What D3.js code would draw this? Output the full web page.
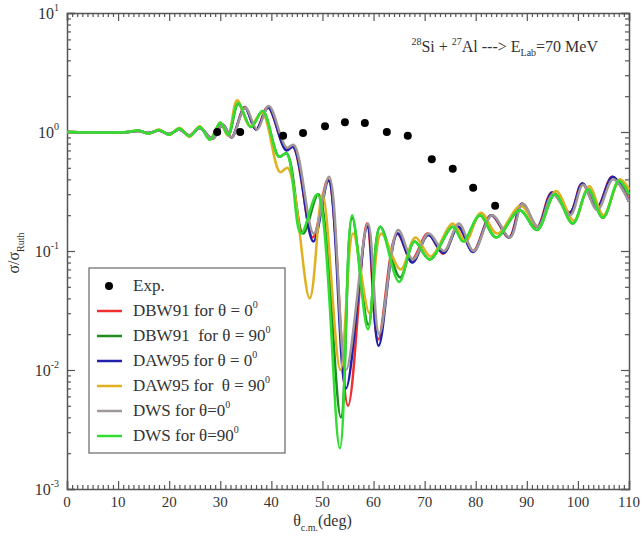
<!DOCTYPE html>
<html>
<head>
<meta charset="utf-8">
<script src="https://cdn.jsdelivr.net/npm/d3@7"></script>
<style>
  body { margin: 0; background: #fff; }
</style>
</head>
<body>
<div class="chart"></div>
<script>
// experimental points (angle in deg, sigma/sigma_Ruth)
var expAngle = [29.4, 33.9, 42.3, 46.2, 50.5, 54.4, 58.3, 62.6, 66.7, 71.4, 75.5, 79.5, 83.8];
var expValue = [1.0, 1.0, 0.93, 0.98, 1.12, 1.21, 1.19, 1.0, 0.93, 0.59, 0.49, 0.34, 0.24];

// calculated curves as [angle, value]
var dbw91_0 = [[0,1],[12,1],[14,1.02],[16,0.98],[18,1.03],[20,0.96],[22,1.05],[24,0.94],[26,1.08],[28.5,0.88],[30.5,1.15],[32.2,0.9],[34.8,1.62],[37,1.05],[39.3,1.62],[42.8,0.72],[44.2,0.76],[48.1,0.13],[51.1,0.40],[55,0.005],[58.7,0.17],[60.9,0.018],[64.6,0.14],[67.5,0.085],[70.6,0.14],[73.6,0.095],[76.5,0.16],[79.5,0.1],[83,0.2],[86.5,0.13],[89,0.25],[92,0.16],[94.9,0.31],[98.4,0.21],[100.8,0.37],[103.7,0.23],[106.7,0.42],[110,0.27]];
var dbw91_90 = [[0,1],[12,1],[14,1.03],[16,0.97],[18,1.04],[20,0.95],[22,1.07],[24,0.92],[26,1.1],[28,0.87],[30,1.18],[31.6,0.95],[33.5,1.72],[36,1.1],[38.3,1.5],[41.5,0.62],[43,0.66],[46.2,0.14],[49.2,0.30],[53.6,0.004],[55.8,0.19],[59,0.024],[61.3,0.16],[65.2,0.06],[68,0.12],[71,0.085],[75.5,0.16],[77.8,0.12],[80.8,0.2],[84,0.13],[88.6,0.22],[92,0.15],[95.5,0.3],[99,0.17],[102,0.33],[104.9,0.19],[108,0.38],[110,0.3]];
var daw95_0 = [[0,1],[12,1],[14,1.02],[16,0.98],[18,1.03],[20,0.96],[22,1.05],[24,0.93],[26,1.08],[28.5,0.88],[30.5,1.15],[32.2,0.9],[34.8,1.6],[37,1.05],[39.4,1.6],[42.9,0.7],[44.3,0.75],[48.2,0.12],[51.2,0.39],[54.6,0.007],[58.8,0.16],[61,0.016],[64.7,0.14],[67.6,0.08],[70.7,0.136],[73.7,0.096],[76.6,0.16],[79.5,0.098],[83.1,0.2],[86.6,0.13],[89.1,0.25],[92.1,0.16],[95,0.31],[98.4,0.21],[100.9,0.37],[103.7,0.23],[106.8,0.42],[110,0.26]];
var daw95_90 = [[0,1],[12,1],[14,1.03],[16,0.97],[18,1.05],[20,0.95],[22,1.08],[24,0.91],[26,1.12],[28,0.86],[30,1.2],[31.5,0.93],[33.3,1.85],[35.8,1.12],[38.2,1.45],[41.7,0.46],[43.2,0.5],[47.5,0.04],[50,0.3],[53.5,0.01],[56,0.14],[59.2,0.03],[61.5,0.14],[65.3,0.07],[68.2,0.13],[71.2,0.09],[75.5,0.17],[78,0.12],[81,0.21],[84.2,0.14],[88.8,0.24],[92.2,0.16],[95.7,0.32],[99.2,0.18],[102.2,0.35],[105,0.2],[108.2,0.4],[110,0.33]];
var dws_0 = [[0,1],[12,1],[14,1.02],[16,0.98],[18,1.03],[20,0.96],[22,1.05],[24,0.94],[26,1.08],[28.5,0.88],[30.5,1.15],[32.2,0.9],[34.9,1.6],[37.2,1.05],[39.5,1.65],[43,0.74],[44.4,0.78],[48.3,0.14],[51.3,0.42],[54.6,0.01],[58.9,0.17],[61.1,0.02],[64.8,0.15],[67.7,0.085],[70.8,0.14],[73.8,0.1],[76.7,0.17],[79.6,0.1],[83.2,0.2],[86.7,0.13],[89.2,0.25],[92.2,0.16],[95.1,0.3],[98.5,0.2],[101,0.36],[103.8,0.22],[106.9,0.4],[110,0.26]];
var dws_90 = [[0,1],[12,1],[14,1.03],[16,0.97],[18,1.04],[20,0.95],[22,1.07],[24,0.92],[26,1.1],[28,0.86],[30,1.2],[31.5,0.95],[33.5,1.75],[36,1.1],[38.3,1.5],[41.5,0.62],[43,0.66],[45.8,0.14],[49,0.30],[53.4,0.0022],[55.8,0.2],[58.9,0.022],[61.3,0.16],[65,0.055],[68,0.12],[71,0.085],[75.5,0.16],[77.5,0.12],[80.8,0.2],[84,0.13],[88.6,0.22],[92,0.15],[95.5,0.3],[99,0.17],[102,0.33],[104.9,0.19],[108,0.39],[110,0.3]];

var seriesNames = ["DBW91 for \u03b8 = 0", "DBW91  for \u03b8 = 90", "DAW95 for \u03b8 = 0", "DAW95 for  \u03b8 = 90", "DWS for \u03b8=0", "DWS for \u03b8=90"];
var seriesData = [dbw91_0, dbw91_90, daw95_0, daw95_90, dws_0, dws_90];
var seriesColors = ["#f03030", "#1e8c1e", "#2020a8", "#e0b020", "#a09898", "#30dd30"];

var xTicks = [0, 10, 20, 30, 40, 50, 60, 70, 80, 90, 100, 110];
var yTickExp = [1, 0, -1, -2, -3];

var serif = "'Liberation Serif', 'Times New Roman', Times, 'DejaVu Serif', serif";

// SVG area
var svgWidth = 641;
var svgHeight = 536;

var margin = {
  top: 13,
  right: 12,
  bottom: 47,
  left: 67
};

var chartWidth = svgWidth - margin.left - margin.right;
var chartHeight = svgHeight - margin.top - margin.bottom;

var svg = d3.select(".chart")
  .append("svg")
  .attr("width", svgWidth)
  .attr("height", svgHeight)
  .style("font-family", serif);

var chart = svg.append("g")
  .attr("transform", "translate(" + margin.left + "," + margin.top + ")");

var x = d3.scaleLinear().domain([0, 110]).range([0, chartWidth]);
var y = d3.scaleLog().domain([1e-3, 10]).range([chartHeight, 0]);

// minor tick lists
var xMinor = d3.range(0, 111, 1).filter(function(d) { return d % 10 != 0; });
var yMinor = [];
[-3, -2, -1, 0].forEach(function(e) {
  for (var k = 2; k <= 9; k++) yMinor.push(k * Math.pow(10, e));
});

var axisColor = "#555";

// bottom / top axes (ticks pointing inside)
var xAxisBottom = chart.append("g").attr("transform", "translate(0," + chartHeight + ")")
  .call(d3.axisBottom(x).tickValues(xTicks).tickSize(-8).tickFormat(""));
xAxisBottom.append("g").call(d3.axisBottom(x).tickValues(xMinor).tickSize(-4).tickFormat(""));
var xAxisTop = chart.append("g")
  .call(d3.axisTop(x).tickValues(xTicks).tickSize(-8).tickFormat(""));
xAxisTop.append("g").call(d3.axisTop(x).tickValues(xMinor).tickSize(-4).tickFormat(""));

var yTickValues = yTickExp.map(function(e) { return Math.pow(10, e); });
var yAxisLeft = chart.append("g")
  .call(d3.axisLeft(y).tickValues(yTickValues).tickSize(-8).tickFormat(""));
yAxisLeft.append("g").call(d3.axisLeft(y).tickValues(yMinor).tickSize(-4).tickFormat(""));
var yAxisRight = chart.append("g").attr("transform", "translate(" + chartWidth + ",0)")
  .call(d3.axisRight(y).tickValues(yTickValues).tickSize(-8).tickFormat(""));
yAxisRight.append("g").call(d3.axisRight(y).tickValues(yMinor).tickSize(-4).tickFormat(""));

chart.selectAll(".domain").attr("stroke", axisColor).attr("stroke-width", 1.5);
chart.selectAll(".tick line").attr("stroke", axisColor).attr("stroke-width", 1.2);
chart.selectAll(".domain").filter(function() { return this.parentNode.parentNode !== chart.node(); }).remove();

var textColor = "#333";

// tick labels
chart.selectAll(".xlab")
  .data(xTicks)
  .enter()
  .append("text")
  .attr("class", "xlab")
  .attr("x", function(d) { return x(d); })
  .attr("y", chartHeight + 18)
  .attr("text-anchor", "middle")
  .attr("fill", textColor)
  .style("font-family", serif)
  .style("font-size", "15px")
  .text(function(d) { return d; });

var ylab = chart.selectAll(".ylab")
  .data(yTickExp)
  .enter()
  .append("text")
  .attr("class", "ylab")
  .attr("x", -8)
  .attr("y", function(d) { return y(Math.pow(10, d)) + 6; })
  .attr("text-anchor", "end")
  .attr("fill", textColor)
  .style("font-family", serif)
  .style("font-size", "16px");
ylab.append("tspan").text("10");
ylab.append("tspan").attr("dy", -8).style("font-size", "10px").text(function(d) { return d; });

// axis titles
var xTitle = svg.append("text")
  .attr("x", margin.left + x(50))
  .attr("y", 526)
  .attr("text-anchor", "middle")
  .attr("fill", textColor)
  .style("font-family", serif)
  .style("font-size", "16px");
xTitle.append("tspan").text("\u03b8");
xTitle.append("tspan").attr("dy", 5).style("font-size", "10px").text("c.m.");
xTitle.append("tspan").attr("dy", -5).text("(deg)");

var yTitle = svg.append("text")
  .attr("transform", "translate(19," + (margin.top + y(0.1) + 2) + ") rotate(-90)")
  .attr("text-anchor", "middle")
  .attr("fill", textColor)
  .style("font-family", serif)
  .style("font-size", "16px");
yTitle.append("tspan").text("\u03c3/\u03c3");
yTitle.append("tspan").attr("dy", 5).style("font-size", "10px").text("Ruth");

// reaction label
var note = svg.append("text")
  .attr("x", 598)
  .attr("y", 52)
  .attr("text-anchor", "end")
  .attr("fill", textColor)
  .style("font-family", serif)
  .style("font-size", "16px");
note.append("tspan").attr("dy", -7).style("font-size", "10px").text("28");
note.append("tspan").attr("dy", 7).text("Si + ");
note.append("tspan").attr("dy", -7).style("font-size", "10px").text("27");
note.append("tspan").attr("dy", 7).text("Al ---> E");
note.append("tspan").attr("dy", 4).style("font-size", "10px").text("Lab");
note.append("tspan").attr("dy", -4).text("=70 MeV");

// curves
var line = d3.line()
  .x(function(d) { return x(d[0]); })
  .y(function(d) { return y(d[1]); })
  .curve(d3.curveCatmullRom.alpha(0.5));

var plot = chart.append("g");
plot.selectAll(".curve")
  .data(seriesData)
  .enter()
  .append("path")
  .attr("class", "curve")
  .attr("d", line)
  .attr("fill", "none")
  .attr("stroke", function(d, i) { return seriesColors[i]; })
  .attr("stroke-width", 2.5)
  .attr("stroke-linejoin", "round");

// experimental points
plot.selectAll(".exp")
  .data(expAngle)
  .enter()
  .append("circle")
  .attr("class", "exp")
  .attr("cx", function(d) { return x(d); })
  .attr("cy", function(d, i) { return y(expValue[i]); })
  .attr("r", 4)
  .attr("fill", "black");

// legend
var legend = svg.append("g");
legend.append("rect")
  .attr("x", 89)
  .attr("y", 268)
  .attr("width", 196)
  .attr("height", 185)
  .attr("fill", "white")
  .attr("stroke", "#666")
  .attr("stroke-width", 1.2);

legend.append("circle")
  .attr("cx", 109)
  .attr("cy", 286)
  .attr("r", 4)
  .attr("fill", "black");
legend.append("text")
  .attr("x", 133)
  .attr("y", 291)
  .attr("fill", textColor)
  .style("font-family", serif)
  .style("font-size", "17px")
  .text("Exp.");

var rows = legend.selectAll(".row")
  .data(seriesNames)
  .enter()
  .append("g")
  .attr("class", "row")
  .attr("transform", function(d, i) { return "translate(0," + (311 + 25 * i) + ")"; });
rows.append("line")
  .attr("x1", 97)
  .attr("x2", 122)
  .attr("stroke", function(d, i) { return seriesColors[i]; })
  .attr("stroke-width", 2.5);
var rowText = rows.append("text")
  .attr("x", 133)
  .attr("y", 5)
  .attr("fill", textColor)
  .style("font-family", serif)
  .style("font-size", "17px")
  .style("white-space", "pre");
rowText.append("tspan").text(function(d) { return d; });
rowText.append("tspan").attr("dy", -8).style("font-size", "10px").text("0");
</script>
</body>
</html>
